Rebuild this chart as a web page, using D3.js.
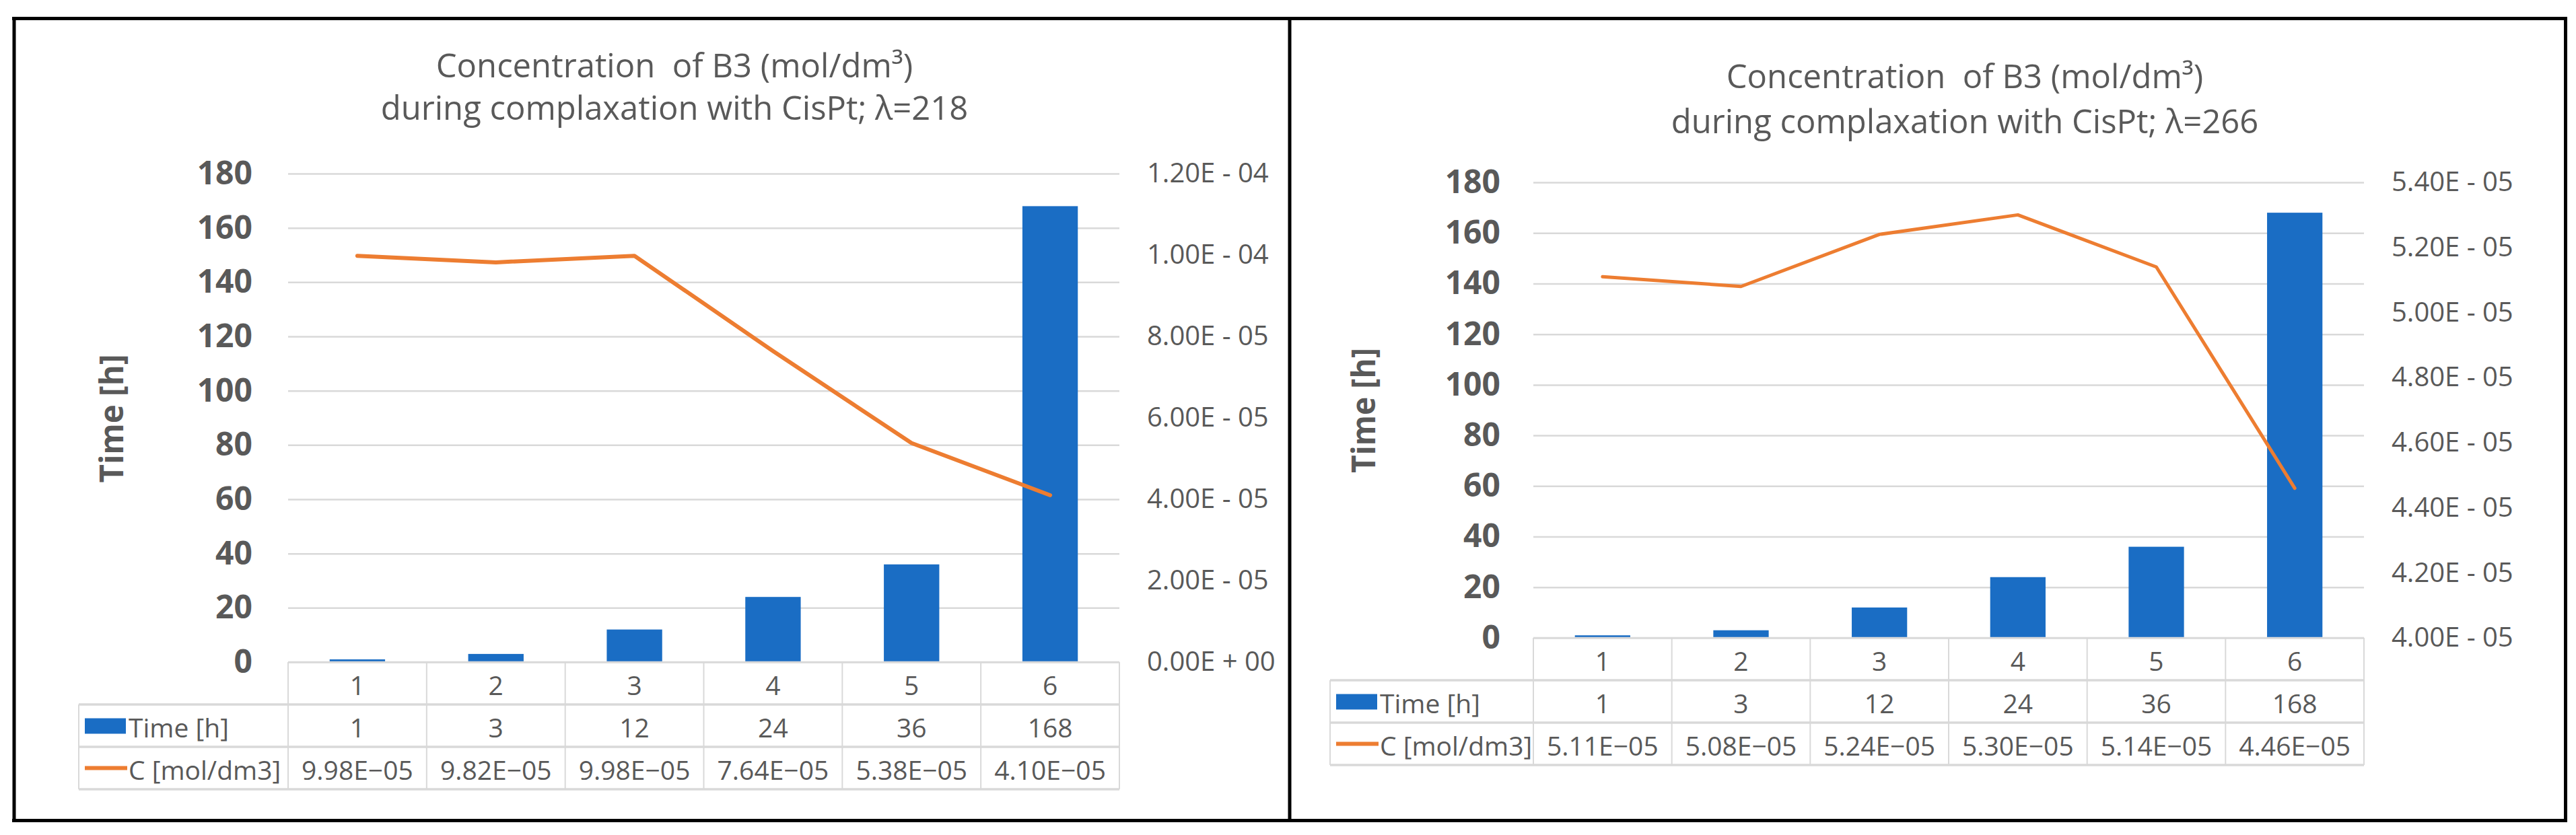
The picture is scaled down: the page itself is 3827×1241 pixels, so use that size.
<!DOCTYPE html>
<html>
<head>
<meta charset="utf-8">
<script src="https://cdn.jsdelivr.net/npm/d3@7"></script>
<style>
    body { margin: 0; background: #fff; }
    text { white-space: pre; }
</style>
</head>
<body>
<svg id="chart" width="3827" height="1241"></svg>
<script>
// values
const categories = [1, 2, 3, 4, 5, 6];
const timeHours = [1, 3, 12, 24, 36, 168];
const conc218 = [9.98e-5, 9.82e-5, 9.98e-5, 7.64e-5, 5.38e-5, 4.10e-5];
const conc266 = [5.11e-5, 5.08e-5, 5.24e-5, 5.30e-5, 5.14e-5, 4.46e-5];

const timeTicks = [0, 20, 40, 60, 80, 100, 120, 140, 160, 180];
const concTicks218 = [0, 2e-5, 4e-5, 6e-5, 8e-5, 1e-4, 1.2e-4];
const concTicks266 = [4.0e-5, 4.2e-5, 4.4e-5, 4.6e-5, 4.8e-5, 5.0e-5, 5.2e-5, 5.4e-5];

const titleLine1 = "Concentration  of B3 (mol/dm³)";
const titleLine2 = ["during complaxation with CisPt; λ=218", "during complaxation with CisPt; λ=266"];
const seriesNames = ["Time [h]", "C [mol/dm3]"];

const barColor = "#1a6dc4";
const lineColor = "#ed7d31";
const textColor = "#595959";
const gridColor = "#d9d9d9";
const font = "'Open Sans', sans-serif";

const svg = d3.select("#chart");

// frame round the two charts
const frame = svg.append("g").attr("stroke", "#000").attr("stroke-width", 5);
frame.append("line").attr("x1", 18).attr("x2", 3814).attr("y1", 27.5).attr("y2", 27.5);
frame.append("line").attr("x1", 18).attr("x2", 3814).attr("y1", 1219.5).attr("y2", 1219.5);
frame.append("line").attr("x1", 21).attr("x2", 21).attr("y1", 25).attr("y2", 1222);
frame.append("line").attr("x1", 1916).attr("x2", 1916).attr("y1", 25).attr("y2", 1222);
frame.append("line").attr("x1", 3811.5).attr("x2", 3811.5).attr("y1", 25).attr("y2", 1222);

// 1.2e-4 -> "1.20E - 04" (axis) or "1.20E−04" (table)
function sci(v, spaced) {
    const s = d3.format(".2e")(v);
    const [m, e] = s.split("e");
    const exp = e.slice(1).padStart(2, "0");
    if (spaced) return m + "E " + e[0] + " " + exp;
    return m + "E" + (e[0] === "-" ? "\u2212" : "+") + exp;
}

function drawChart(cfg, conc, concTicks, subtitle) {
    const g = svg.append("g");

    // title
    const title = g.append("text")
        .attr("text-anchor", "middle")
        .attr("font-family", font)
        .attr("font-size", 49)
        .attr("fill", textColor);
    title.append("tspan").attr("x", cfg.titleX).attr("y", cfg.titleY[0]).text(titleLine1);
    title.append("tspan").attr("x", cfg.titleX).attr("y", cfg.titleY[1]).text(subtitle);

    const x = d3.scaleBand().domain(categories).range([cfg.left, cfg.right]);
    const yTime = d3.scaleLinear().domain([0, 180]).range([cfg.bottom, cfg.top]);
    const yConc = d3.scaleLinear()
        .domain([concTicks[0], concTicks[concTicks.length - 1]])
        .range([cfg.bottom, cfg.top]);

    // gridlines
    g.append("g")
        .attr("transform", `translate(${cfg.left},0)`)
        .call(d3.axisLeft(yTime).tickValues(timeTicks).tickSize(-(cfg.right - cfg.left)).tickFormat(""))
        .call(a => a.select(".domain").remove())
        .call(a => a.selectAll("line").attr("stroke", gridColor).attr("stroke-width", 2.5));

    // left axis labels
    g.append("g")
        .attr("transform", `translate(${cfg.left},0)`)
        .call(d3.axisLeft(yTime).tickValues(timeTicks).tickSize(0).tickPadding(cfg.tickPad))
        .call(a => a.select(".domain").remove())
        .call(a => a.selectAll("text")
            .attr("font-family", font)
            .attr("font-size", 48)
            .attr("font-weight", "bold")
            .attr("fill", textColor));

    // right axis labels
    g.append("g")
        .attr("transform", `translate(${cfg.right},0)`)
        .call(d3.axisRight(yConc).tickValues(concTicks).tickSize(0).tickPadding(41)
            .tickFormat(d => sci(d, true)))
        .call(a => a.select(".domain").remove())
        .call(a => a.selectAll("text")
            .attr("font-family", font)
            .attr("font-size", 40)
            .attr("fill", textColor));

    // y axis title
    g.append("text")
        .attr("transform", `translate(${cfg.yTitleX},${cfg.yTitleY}) rotate(-90)`)
        .attr("text-anchor", "middle")
        .attr("dominant-baseline", "central")
        .attr("font-family", font)
        .attr("font-size", 48)
        .attr("font-weight", "bold")
        .attr("textLength", cfg.yTitleLen)
        .attr("lengthAdjust", "spacingAndGlyphs")
        .attr("fill", textColor)
        .text("Time [h]");

    // bars
    const barW = x.bandwidth() * 0.4;
    g.append("g")
        .selectAll("rect")
        .data(timeHours)
        .join("rect")
        .attr("x", (d, i) => x(categories[i]) + (x.bandwidth() - barW) / 2)
        .attr("width", barW)
        .attr("y", d => yTime(d))
        .attr("height", d => yTime(0) - yTime(d))
        .attr("fill", barColor);

    // concentration line
    const line = d3.line()
        .x((d, i) => x(categories[i]) + x.bandwidth() / 2)
        .y(d => yConc(d));
    g.append("path")
        .datum(conc)
        .attr("d", line)
        .attr("fill", "none")
        .attr("stroke", lineColor)
        .attr("stroke-width", cfg.lineW)
        .attr("stroke-linejoin", "round")
        .attr("stroke-linecap", "round");

    // data table under the plot
    const rowH = cfg.rowH;
    const t0 = cfg.bottom;
    const t = g.append("g").attr("stroke", gridColor).attr("fill", "none");
    t.append("line").attr("x1", cfg.left).attr("x2", cfg.right).attr("y1", t0).attr("y2", t0).attr("stroke-width", 2.5);
    [1, 2, 3].forEach(r => {
        t.append("line")
            .attr("x1", cfg.legendLeft).attr("x2", cfg.right)
            .attr("y1", t0 + r * rowH).attr("y2", t0 + r * rowH)
            .attr("stroke-width", 3.5);
    });
    categories.forEach(c => {
        t.append("line").attr("x1", x(c)).attr("x2", x(c))
            .attr("y1", t0).attr("y2", t0 + 3 * rowH).attr("stroke-width", 2);
    });
    t.append("line").attr("x1", cfg.right).attr("x2", cfg.right)
        .attr("y1", t0).attr("y2", t0 + 3 * rowH).attr("stroke-width", 2);
    t.append("line").attr("x1", cfg.legendLeft).attr("x2", cfg.legendLeft)
        .attr("y1", t0 + rowH).attr("y2", t0 + 3 * rowH).attr("stroke-width", 2);

    const rows = [
        categories.map(String),
        timeHours.map(String),
        conc.map(v => sci(v, false)),
    ];
    rows.forEach((vals, r) => {
        g.append("g")
            .selectAll("text")
            .data(vals)
            .join("text")
            .attr("x", (d, i) => x(categories[i]) + x.bandwidth() / 2)
            .attr("y", t0 + r * rowH + rowH / 2 + 2)
            .attr("text-anchor", "middle")
            .attr("dominant-baseline", "central")
            .attr("font-family", font)
            .attr("font-size", 39)
            .attr("fill", textColor)
            .text(d => d);
    });

    // legend keys in the table
    const cy1 = t0 + 1.5 * rowH;
    const cy2 = t0 + 2.5 * rowH;
    g.append("rect")
        .attr("x", cfg.legendLeft + 9).attr("y", cy1 - 11)
        .attr("width", 61).attr("height", 23)
        .attr("fill", barColor);
    g.append("line")
        .attr("x1", cfg.legendLeft + 9).attr("x2", cfg.legendLeft + 72)
        .attr("y1", cy2).attr("y2", cy2)
        .attr("stroke", lineColor).attr("stroke-width", 6);
    [cy1, cy2].forEach((cy, i) => {
        g.append("text")
            .attr("x", cfg.legendLeft + 74)
            .attr("y", cy + 2)
            .attr("dominant-baseline", "central")
            .attr("font-family", font)
            .attr("font-size", 39)
            .attr("fill", textColor)
            .text(seriesNames[i]);
    });
}

drawChart({
    titleX: 1002, titleY: [115, 178],
    left: 428, right: 1663, top: 258, bottom: 984,
    legendLeft: 117, yTitleX: 164, yTitleY: 622, yTitleLen: 191,
    tickPad: 53, rowH: 63, lineW: 6,
}, conc218, concTicks218, titleLine2[0]);

drawChart({
    titleX: 2919, titleY: [131, 198],
    left: 2278, right: 3512, top: 271, bottom: 948,
    legendLeft: 1976, yTitleX: 2024, yTitleY: 610, yTitleLen: 186,
    tickPad: 49, rowH: 63, lineW: 5,
}, conc266, concTicks266, titleLine2[1]);
</script>
</body>
</html>
